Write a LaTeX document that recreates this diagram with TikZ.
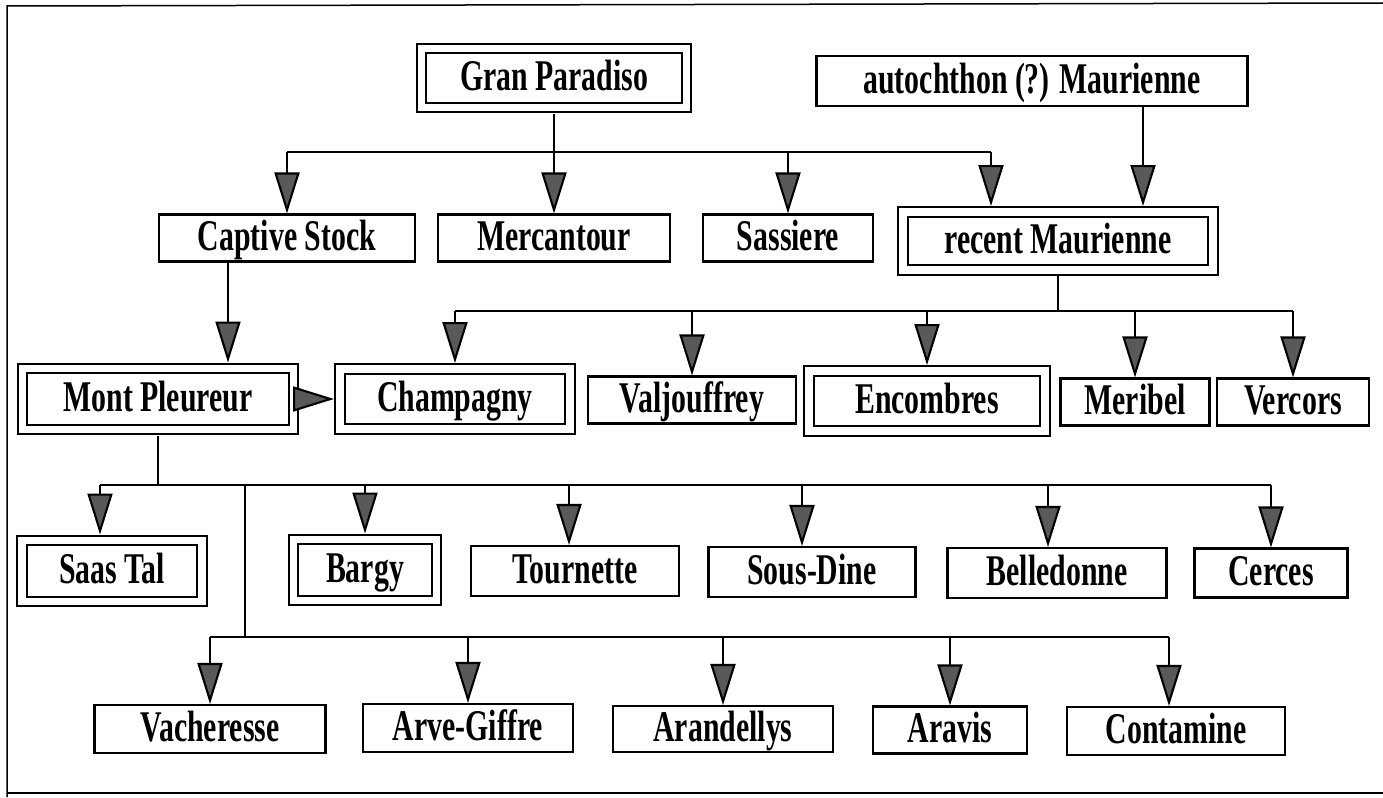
\documentclass[tikz,border=0pt]{standalone}
\usepackage{fontspec}
\setmainfont{Liberation Serif}[FakeStretch=0.68]
\usetikzlibrary{arrows.meta}

\begin{document}
\begin{tikzpicture}[x=1bp,y=-1bp,line width=2.1bp,
  box/.style={draw,rectangle,inner sep=0pt,minimum height=47bp,
    text height=30bp,text depth=6bp,
    font=\fontsize{44}{48}\selectfont\bfseries},
  dbox/.style={box,double,double distance=7.5bp,outer sep=6bp},
  arr/.style={-{Triangle[length=41bp,width=25bp,fill=black!65]}}]
\useasboundingbox (0,0) rectangle (1383,797);
% frame
\draw[line width=1.5bp] (1383,3) -- (7,6) -- (7,797);
\draw[line width=1.5bp] (7,793) -- (1383,793);

% top
\node[dbox,minimum width=265bp,minimum height=59bp] (gp) at (554,78) {Gran Paradiso};
\node[box,minimum width=431bp,minimum height=50bp] (auto) at (1032,81) {autochthon (?) Maurienne};

% second row
\node[box,minimum width=256bp] (cap) at (287,238) {Captive Stock};
\node[box,minimum width=232bp] (merc) at (554,238) {Mercantour};
\node[box,minimum width=170bp] (sass) at (788,238) {Sassiere};
\node[dbox,minimum width=310bp,minimum height=58bp] (rec) at (1058,241) {recent Maurienne};

% third row
\node[dbox,minimum width=271bp,minimum height=61bp] (mont) at (158,399) {Mont Pleureur};
\node[dbox,minimum width=230bp,minimum height=60bp] (champ) at (455,399) {Champagny};
\node[box,minimum width=208bp] (valj) at (692,400) {Valjouffrey};
\node[dbox,minimum width=236bp,minimum height=60bp] (enc) at (927,401) {Encombres};
\node[box,minimum width=149bp] (meri) at (1135,402) {Meribel};
\node[box,minimum width=152bp] (verc) at (1293,402) {Vercors};

% fourth row
\node[dbox,minimum width=180bp,minimum height=61bp] (saas) at (112,571) {Saas Tal};
\node[dbox,minimum width=143bp,minimum height=61bp] (barg) at (365,570) {Bargy};
\node[box,minimum width=208bp,minimum height=50bp] (tourn) at (575,571) {Tournette};
\node[box,minimum width=207bp,minimum height=50bp] (sous) at (812,572) {Sous-Dine};
\node[box,minimum width=219bp,minimum height=50bp] (bell) at (1057,573) {Belledonne};
\node[box,minimum width=153bp,minimum height=49bp] (cerc) at (1271,573) {Cerces};

% fifth row
\node[box,minimum width=231bp,minimum height=48bp] (vach) at (210,729) {Vacheresse};
\node[box,minimum width=210bp,minimum height=48bp] (arve) at (468,728) {Arve-Giffre};
\node[box,minimum width=220bp,minimum height=46bp] (arand) at (723,729) {Arandellys};
\node[box,minimum width=154bp,minimum height=47bp] (arav) at (950,730) {Aravis};
\node[box,minimum width=218bp,minimum height=48bp] (cont) at (1176,731) {Contamine};

% bars and drops
\coordinate (bar1) at (0,152);
\coordinate (bar2) at (0,311);
\coordinate (bar3) at (0,485);
\coordinate (bar4) at (0,637);
\coordinate (j1) at (991,152);
\coordinate (j2) at (1143,0);
\coordinate (j3) at (228,0);
\coordinate (j4) at (100,0);
\coordinate (j5) at (245,0);

\draw (gp) -- (gp |- bar1);
\draw (cap |- bar1) -- (j1);
\draw[arr] (cap |- bar1) -- (cap);
\draw[arr] (merc |- bar1) -- (merc);
\draw[arr] (sass |- bar1) -- (sass);
\draw[arr] (j1) -- (j1 |- rec.north);
\draw[arr] (auto.south -| j2) -- (j2 |- rec.north);

\draw[arr] (cap.south -| j3) -- (j3 |- mont.north);
\draw[arr] (mont) -- (champ);

\draw (rec) -- (rec |- bar2);
\draw (champ |- bar2) -- (verc |- bar2);
\draw[arr] (champ |- bar2) -- (champ);
\draw[arr] (valj |- bar2) -- (valj);
\draw[arr] (enc |- bar2) -- (enc);
\draw[arr] (meri |- bar2) -- (meri);
\draw[arr] (verc |- bar2) -- (verc);

\draw (mont) -- (mont |- bar3);
\draw (j4 |- bar3) -- (cerc |- bar3);
\draw[arr] (j4 |- bar3) -- (j4 |- saas.north);
\draw[arr] (barg |- bar3) -- (barg);
\draw[arr] ([xshift=-6bp]tourn.north |- bar3) -- ([xshift=-6bp]tourn.north);
\draw[arr] ([xshift=-10bp]sous.north |- bar3) -- ([xshift=-10bp]sous.north);
\draw[arr] ([xshift=-9bp]bell.north |- bar3) -- ([xshift=-9bp]bell.north);
\draw[arr] (cerc |- bar3) -- (cerc);

\draw (j5 |- bar3) -- (j5 |- bar4);
\draw (vach |- bar4) -- ([xshift=-7bp]cont.north |- bar4);
\draw[arr] (vach |- bar4) -- (vach);
\draw[arr] (arve |- bar4) -- (arve);
\draw[arr] (arand |- bar4) -- (arand);
\draw[arr] (arav |- bar4) -- (arav);
\draw[arr] ([xshift=-7bp]cont.north |- bar4) -- ([xshift=-7bp]cont.north);
\end{tikzpicture}
\end{document}
